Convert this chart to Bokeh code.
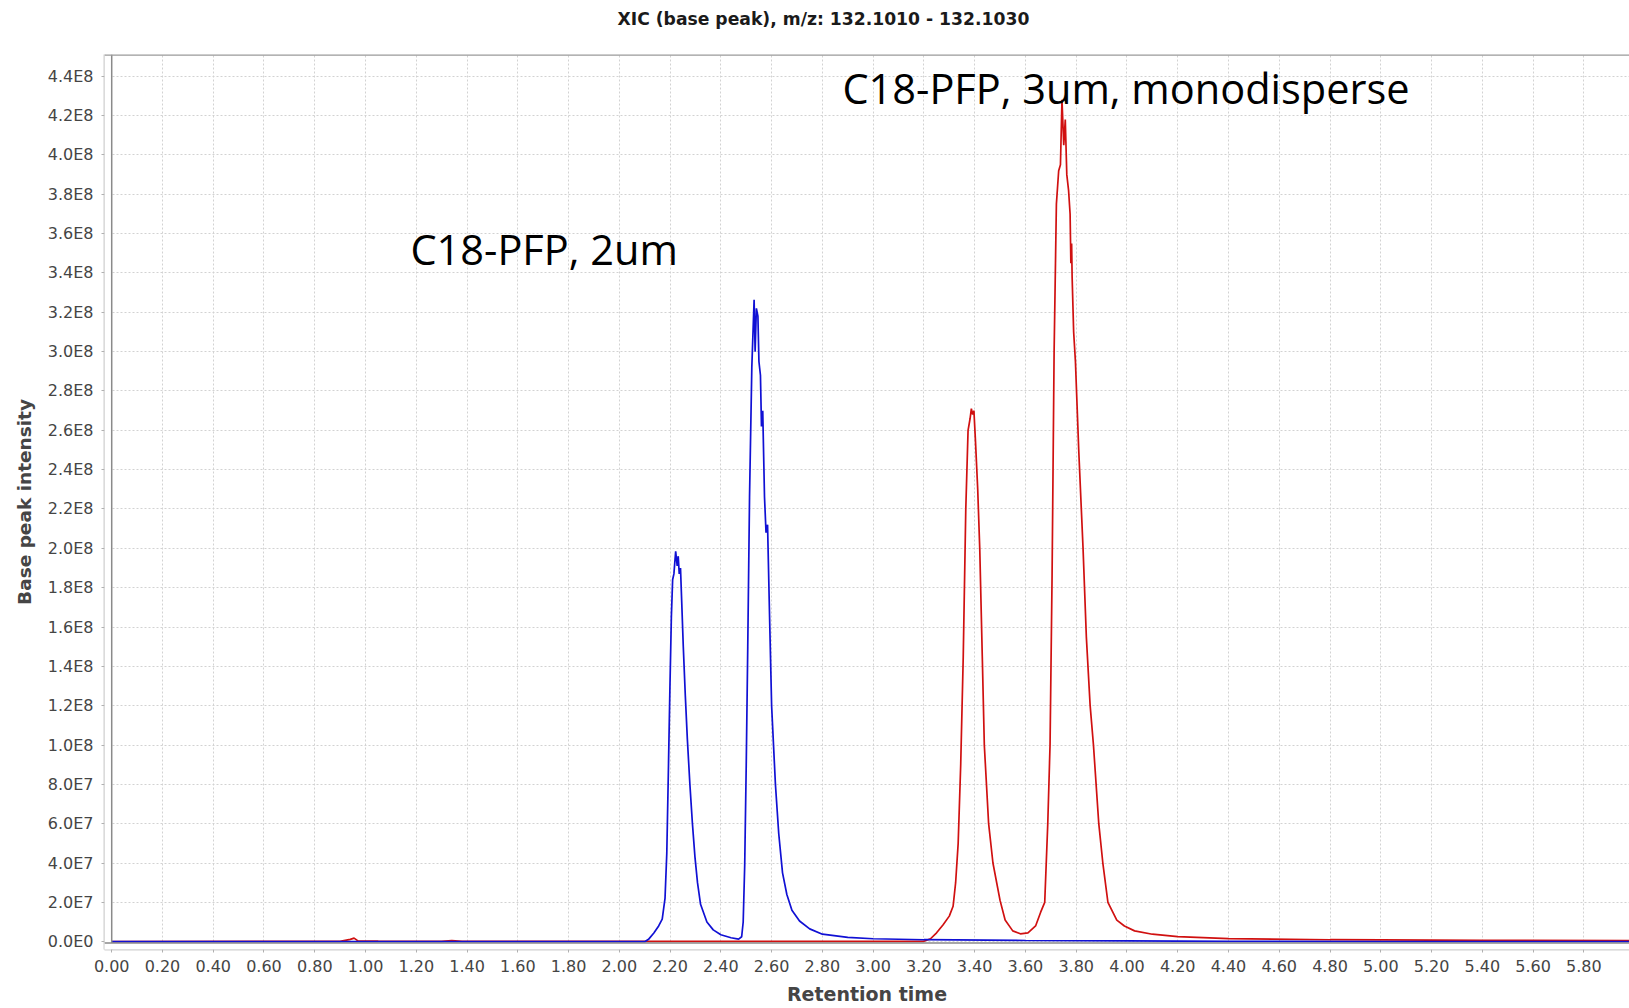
from bokeh.plotting import figure
from bokeh.models import ColumnDataSource, Range1d, FixedTicker, CustomJSTickFormatter, NumeralTickFormatter, Span, BoxAnnotation, Title
from bokeh.core.properties import value
from bokeh.embed import file_html
from bokeh.resources import INLINE

# ---------------- data ----------------
title_text = "XIC (base peak), m/z: 132.1010 - 132.1030"
x_label = "Retention time"
y_label = "Base peak intensity"

blue_time = [0.00, 1.00, 2.00, 2.100, 2.115, 2.136, 2.155, 2.169, 2.180, 2.187, 2.193, 2.199,
             2.205, 2.210, 2.215, 2.222, 2.228, 2.232, 2.236, 2.241, 2.246, 2.252, 2.260,
             2.268, 2.278, 2.288, 2.298, 2.308, 2.320, 2.345, 2.370, 2.400, 2.440, 2.470,
             2.482, 2.488, 2.494, 2.500, 2.506, 2.513, 2.522, 2.531, 2.535, 2.540, 2.546,
             2.550, 2.556, 2.560, 2.565, 2.572, 2.578, 2.584, 2.592, 2.600, 2.615, 2.628,
             2.643, 2.660, 2.680, 2.710, 2.750, 2.800, 2.900, 3.000, 3.200, 3.600, 4.000,
             4.400, 5.000, 6.000]
blue_int = [0, 0, 0, 0, 1.2e6, 4.4e6, 8e6, 1.15e7, 2.2e7, 4.5e7, 8.5e7, 1.27e8,
            1.65e8, 1.84e8, 1.87e8, 1.985e8, 1.91e8, 1.96e8, 1.87e8, 1.90e8, 1.72e8, 1.50e8, 1.25e8,
            1.03e8, 8.0e7, 6.0e7, 4.3e7, 3.0e7, 1.9e7, 1.0e7, 6e6, 3.5e6, 2e6, 1.3e6,
            2.5e6, 1.0e7, 3.9e7, 9.0e7, 1.5e8, 2.26e8, 2.92e8, 3.264e8, 3.0e8, 3.22e8, 3.18e8,
            2.95e8, 2.88e8, 2.62e8, 2.70e8, 2.26e8, 2.08e8, 2.12e8, 1.65e8, 1.2e8, 8.0e7, 5.5e7,
            3.5e7, 2.4e7, 1.6e7, 1.05e7, 6.5e6, 3.8e6, 2.2e6, 1.5e6, 1e6, 6e5, 4e5,
            2e5, 0, 0]

red_time = [0.00, 0.90, 0.940, 0.955, 0.970, 1.050, 1.300, 1.340, 1.380, 2.000, 3.200,
            3.226, 3.250, 3.275, 3.300, 3.315, 3.325, 3.335, 3.345, 3.355, 3.365, 3.374,
            3.382, 3.387, 3.392, 3.397, 3.403, 3.412, 3.420, 3.430, 3.438, 3.455, 3.472,
            3.500, 3.520, 3.550, 3.580, 3.610, 3.640, 3.660, 3.676, 3.688, 3.697, 3.705,
            3.713, 3.722, 3.731, 3.738, 3.744, 3.751, 3.757, 3.763, 3.770, 3.776, 3.779,
            3.782, 3.784, 3.790, 3.797, 3.810, 3.827, 3.840, 3.855, 3.868, 3.889, 3.905,
            3.925, 3.960, 3.990, 4.030, 4.100, 4.200, 4.400, 4.800, 5.400, 6.000]
red_int = [0, 2e5, 1.2e6, 1.8e6, 4e5, 3e5, 2e5, 6e5, 2e5, 2e5, 2e5,
           1.5e6, 4.5e6, 8.5e6, 1.3e7, 1.8e7, 3.0e7, 5.0e7, 9.0e7, 1.45e8, 2.2e8, 2.6e8,
           2.66e8, 2.71e8, 2.68e8, 2.70e8, 2.55e8, 2.30e8, 2.0e8, 1.45e8, 1.0e8, 6.0e7, 4.0e7,
           2.1e7, 1.1e7, 5.5e6, 4.0e6, 4.5e6, 8.0e6, 1.5e7, 2.0e7, 6.0e7, 1.0e8, 1.86e8,
           3.0e8, 3.75e8, 3.92e8, 3.95e8, 4.28e8, 4.05e8, 4.18e8, 3.90e8, 3.82e8, 3.70e8, 3.45e8,
           3.55e8, 3.38e8, 3.10e8, 2.95e8, 2.50e8, 2.0e8, 1.55e8, 1.2e8, 1.0e8, 6.0e7, 4.0e7,
           2.0e7, 1.1e7, 8.0e6, 5.5e6, 3.8e6, 2.6e6, 1.6e6, 1.0e6, 7e5, 5e5]

note_text = ["C18-PFP, 2um", "C18-PFP, 3um, monodisperse"]
note_x = [1.177, 2.879]
note_y = [3.52e8, 4.339e8]

x_ticks = [0.0, 0.2, 0.4, 0.6, 0.8, 1.0, 1.2, 1.4, 1.6, 1.8, 2.0, 2.2, 2.4, 2.6, 2.8,
           3.0, 3.2, 3.4, 3.6, 3.8, 4.0, 4.2, 4.4, 4.6, 4.8, 5.0, 5.2, 5.4, 5.6, 5.8]
y_ticks = [0, 2e7, 4e7, 6e7, 8e7, 1e8, 1.2e8, 1.4e8, 1.6e8, 1.8e8, 2e8, 2.2e8, 2.4e8,
           2.6e8, 2.8e8, 3e8, 3.2e8, 3.4e8, 3.6e8, 3.8e8, 4e8, 4.2e8, 4.4e8]

# ---------------- figure ----------------
X0, X1 = -0.0284, 5.980
Y0, Y1 = -3.97e6, 4.5108e8
FRAME_Y = -6.5e5

p = figure(width=1629, height=1008, output_backend="svg", toolbar_location=None,
           x_range=Range1d(X0, X1), y_range=Range1d(Y0, Y1),
           min_border_left=104, min_border_right=0, min_border_top=54, min_border_bottom=59)
p.background_fill_color = "white"
p.border_fill_color = "white"
p.outline_line_color = None
p.title.text = ""

# spacer panel next to the plot area, then the real title above it
p.add_layout(Title(text=" ", text_font_size="12px", standoff=10), "above")
p.add_layout(Title(text=title_text, text_font="DejaVu Sans", text_font_style="bold",
                   text_font_size="17.2px", text_color="#1a1a1a", align="left",
                   offset=513, standoff=0), "above")

for ax in (p.xaxis[0], p.yaxis[0]):
    ax.axis_line_color = "#cfcfcf"
    ax.axis_line_width = 2
    ax.major_tick_line_color = "#b0b0b0"
    ax.major_tick_line_width = 1
    ax.major_tick_in = 0
    ax.major_tick_out = 3
    ax.minor_tick_line_color = None
    ax.major_label_text_font = "DejaVu Sans"
    ax.major_label_text_font_size = "16px"
    ax.major_label_text_color = "#454545"
    ax.axis_label_text_font = "DejaVu Sans"
    ax.axis_label_text_font_style = "bold"
    ax.axis_label_text_color = "#454545"

p.xaxis.axis_label_text_font_size = "19px"
p.yaxis.axis_label_text_font_size = "18.5px"
p.xaxis.axis_label = x_label
p.yaxis.axis_label = y_label
p.xaxis.ticker = FixedTicker(ticks=x_ticks)
p.yaxis.ticker = FixedTicker(ticks=y_ticks)
p.xaxis.formatter = NumeralTickFormatter(format="0.00")
p.yaxis.formatter = CustomJSTickFormatter(code="""
if (Math.abs(tick) < 1) return "0.0E0";
var e = Math.floor(Math.log10(Math.abs(tick)) + 1e-9);
var m = tick / Math.pow(10, e);
if (Math.round(m * 10) / 10 >= 10) { e += 1; m = tick / Math.pow(10, e); }
return m.toFixed(1) + "E" + e;
""")
p.xaxis.major_label_standoff = 7
p.yaxis.major_label_standoff = 8
p.xaxis.axis_label_standoff = 8
p.yaxis.axis_label_standoff = 10

p.xgrid.ticker = FixedTicker(ticks=x_ticks)
p.ygrid.ticker = FixedTicker(ticks=y_ticks)
for g in (p.xgrid[0], p.ygrid[0]):
    g.grid_line_color = "#d2d2d2"
    g.grid_line_dash = "2 2"
    g.grid_line_width = 1

# data traces
blue_src = ColumnDataSource(dict(t=blue_time, v=blue_int))
red_src = ColumnDataSource(dict(t=red_time, v=red_int))
p.line("t", "v", source=red_src, line_color="#d01010", line_width=1.7)
p.line("t", "v", source=blue_src, line_color="#1010d4", line_width=1.7)

# annotations
note_src = ColumnDataSource(dict(x=note_x, y=note_y, text=note_text))
p.text("x", "y", text="text", source=note_src, text_font=value("Open Sans"),
       text_font_size="41.5px", text_color="black", text_baseline="alphabetic", text_align="left")

# plot-area frame (offset from the axes, as in the original)
p.add_layout(BoxAnnotation(right=0, fill_color="white", fill_alpha=1.0, line_color=None))
p.add_layout(Span(location=0, dimension="height", line_color="#8a8a8a", line_width=1.5))
p.add_layout(BoxAnnotation(top=FRAME_Y, fill_color="white", fill_alpha=1.0, line_color=None))
p.add_layout(Span(location=FRAME_Y, dimension="width", line_color="#8a8a8a", line_width=1.5))
p.add_layout(Span(location=Y1, dimension="width", line_color="#9a9a9a", line_width=2.5))

open("out.html", "w").write(file_html(p, INLINE))
